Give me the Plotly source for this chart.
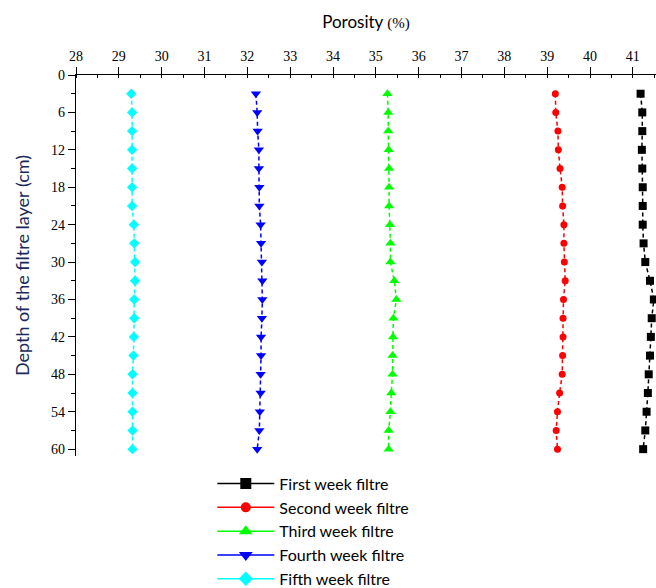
import plotly.graph_objects as go

depth = [3, 6, 9, 12, 15, 18, 21, 24, 27, 30, 33, 36, 39, 42, 45, 48, 51, 54, 57, 60]

first_week = [41.18, 41.22, 41.22, 41.21, 41.22, 41.23, 41.23, 41.23, 41.25, 41.29,
              41.40, 41.49, 41.44, 41.42, 41.40, 41.37, 41.35, 41.32, 41.29, 41.24]
second_week = [39.19, 39.20, 39.25, 39.26, 39.30, 39.35, 39.36, 39.39, 39.39, 39.40,
               39.42, 39.38, 39.37, 39.37, 39.36, 39.35, 39.29, 39.24, 39.21, 39.24]
third_week = [35.27, 35.29, 35.29, 35.30, 35.31, 35.31, 35.31, 35.33, 35.34, 35.34,
              35.43, 35.48, 35.41, 35.40, 35.39, 35.39, 35.36, 35.34, 35.30, 35.30]
fourth_week = [32.20, 32.23, 32.24, 32.27, 32.27, 32.28, 32.28, 32.31, 32.32, 32.34,
               32.35, 32.35, 32.34, 32.32, 32.32, 32.31, 32.31, 32.29, 32.28, 32.23]
fifth_week = [29.29, 29.31, 29.31, 29.31, 29.31, 29.31, 29.31, 29.35, 29.36, 29.38,
              29.38, 29.36, 29.36, 29.35, 29.34, 29.32, 29.32, 29.32, 29.32, 29.32]

names = ["First week filtre", "Second week filtre", "Third week filtre",
         "Fourth week filtre", "Fifth week filtre"]
series = [first_week, second_week, third_week, fourth_week, fifth_week]
colors = ["#000000", "#ff0000", "#00ff00", "#0000ff", "#00ffff"]
symbols = ["square", "circle", "triangle-up", "triangle-down", "diamond"]
sizes = [8, 7, 9, 9, 8]

x_ticks = list(range(28, 42))
y_ticks = list(range(0, 61, 6))

fig = go.Figure()
for name, vals, c, s, sz in zip(names, series, colors, symbols, sizes):
    fig.add_trace(go.Scatter(
        x=vals, y=depth, mode="lines+markers", name=name, showlegend=False,
        line=dict(color=c, width=1.5, dash="4px,3px"),
        marker=dict(symbol=s, size=sz, color=c, line=dict(width=0)),
    ))
# legend entries drawn with solid lines, as in the original legend
for name, c, s, sz in zip(names, colors, symbols, sizes):
    fig.add_trace(go.Scatter(
        x=[None], y=[None], mode="lines+markers", name=name, showlegend=True,
        line=dict(color=c, width=1.5),
        marker=dict(symbol=s, size=sz + 3, color=c, line=dict(width=0)),
    ))

comic = "Lato"
serif = "Liberation Serif, Times New Roman, serif"

fig.update_layout(
    width=656, height=588,
    margin=dict(l=76, r=0, t=75, b=132, autoexpand=False),
    paper_bgcolor="white", plot_bgcolor="white",
    showlegend=True,
    legend=dict(
        x=0.235, y=-0.028, xanchor="left", yanchor="top",
        font=dict(family=comic, size=16, color="black"),
        bgcolor="rgba(0,0,0,0)", tracegroupgap=0, itemwidth=57,
    ),
    xaxis=dict(
        side="top", range=[28, 41.54], tickvals=x_ticks,
        ticks="outside", ticklen=7, tickwidth=1, tickcolor="black",
        minor=dict(dtick=0.5, tick0=28, ticks="inside", ticklen=3, tickcolor="black", tickwidth=1),
        showline=True, linecolor="black", linewidth=1.3,
        showgrid=False, zeroline=False,
        tickfont=dict(family=serif, size=14, color="black"),
        title=dict(text="Porosity <span style='font-family:Liberation Serif;font-size:15px'>(%)</span>",
                   font=dict(family=comic, size=17, color="black"), standoff=16),
    ),
    yaxis=dict(
        range=[61.1, 0], tickvals=y_ticks,
        ticks="outside", ticklen=7, tickwidth=1, tickcolor="black",
        minor=dict(dtick=3, tick0=0, ticks="outside", ticklen=4, tickcolor="black", tickwidth=1),
        showline=True, linecolor="black", linewidth=1.3,
        showgrid=False, zeroline=False,
        tickfont=dict(family=serif, size=14, color="black"),
        title=dict(text="Depth of the filtre layer (cm)",
                   font=dict(family=comic, size=18, color="#1b2a5c"), standoff=16),
    ),
)

fig.write_html("out.html")
